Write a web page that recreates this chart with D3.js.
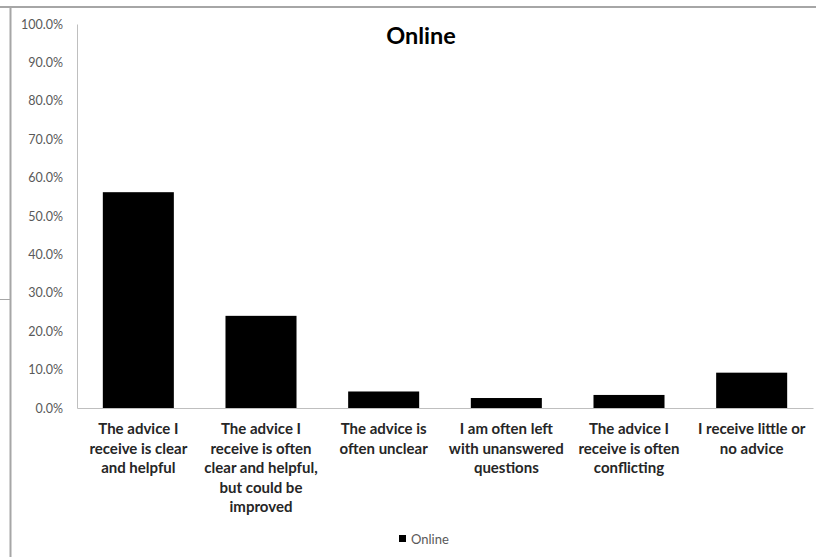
<!DOCTYPE html>
<html>
<head>
<meta charset="utf-8">
<script src="https://cdn.jsdelivr.net/npm/d3@7/dist/d3.min.js"></script>
<style>
  html, body { margin: 0; padding: 0; background: #fff; }
  svg { display: block; }
</style>
</head>
<body>
<svg id="chart" width="816" height="557"></svg>
<script>
const categories = [
  "The advice I|receive is clear|and helpful",
  "The advice I|receive is often|clear and helpful,|but could be|improved",
  "The advice is|often unclear",
  "I am often left|with unanswered|questions",
  "The advice I|receive is often|conflicting",
  "I receive little or|no advice"
];
const values = [0.562, 0.240, 0.043, 0.026, 0.034, 0.092];
const seriesName = "Online";
const titleText = "Online";
const yTicks = [0, 0.1, 0.2, 0.3, 0.4, 0.5, 0.6, 0.7, 0.8, 0.9, 1.0];

const svg = d3.select("#chart");
const font = "Lato, 'Open Sans', sans-serif";

// outer frame
svg.append("line").attr("x1", 0).attr("x2", 816).attr("y1", 7).attr("y2", 7)
  .attr("stroke", "#a6a6a6").attr("stroke-width", 2);
svg.append("line").attr("x1", 10.5).attr("x2", 10.5).attr("y1", 7).attr("y2", 557)
  .attr("stroke", "#a6a6a6").attr("stroke-width", 2);
svg.append("line").attr("x1", 0).attr("x2", 10).attr("y1", 299.5).attr("y2", 299.5)
  .attr("stroke", "#a6a6a6").attr("stroke-width", 1);

const x = d3.scaleBand().domain(categories).range([77, 813]).paddingInner(0.421).paddingOuter(0.2105);
const y = d3.scaleLinear().domain([0, 1]).range([408, 24]);

// y axis
const yAxis = d3.axisLeft(y).tickValues(yTicks).tickFormat(d3.format(".1%")).tickSize(0).tickPadding(14);
const gy = svg.append("g").attr("transform", "translate(77,0)").call(yAxis);
gy.select(".domain").attr("stroke", "#bfbfbf").attr("stroke-width", 1);
gy.selectAll("text").attr("font-family", font).attr("font-size", 12.5).attr("fill", "#595959");

// bars
svg.append("g").selectAll("rect").data(values).enter().append("rect")
  .attr("x", (d, i) => x(categories[i]))
  .attr("width", x.bandwidth())
  .attr("y", d => y(d))
  .attr("height", d => y(0) - y(d))
  .attr("fill", "#000");

// x axis
const xAxis = d3.axisBottom(x).tickSize(0).tickFormat("");
const gx = svg.append("g").attr("transform", "translate(0,408)").call(xAxis);
gx.select(".domain").attr("stroke", "#bfbfbf").attr("stroke-width", 1);

// category labels
const lab = svg.append("g");
categories.forEach(c => {
  const t = lab.append("text")
    .attr("x", x(c) + x.bandwidth() / 2)
    .attr("y", 434)
    .attr("text-anchor", "middle")
    .attr("font-family", font).attr("font-weight", "bold").attr("font-size", 15)
    .attr("fill", "#262626");
  c.split("|").forEach((line, i) => {
    t.append("tspan").attr("x", x(c) + x.bandwidth() / 2).attr("dy", i === 0 ? 0 : 19.5).text(line);
  });
});

// title
svg.append("text").attr("x", 421).attr("y", 43.5).attr("text-anchor", "middle")
  .attr("font-family", font).attr("font-weight", "bold").attr("font-size", 23.5)
  .attr("fill", "#000").text(titleText);

// legend
const lg = svg.append("g");
lg.append("rect").attr("x", 399).attr("y", 535).attr("width", 7).attr("height", 7).attr("fill", "#000");
lg.append("text").attr("x", 411).attr("y", 543.5).attr("font-family", font).attr("font-size", 13)
  .attr("fill", "#595959").text(seriesName);
</script>
</body>
</html>
